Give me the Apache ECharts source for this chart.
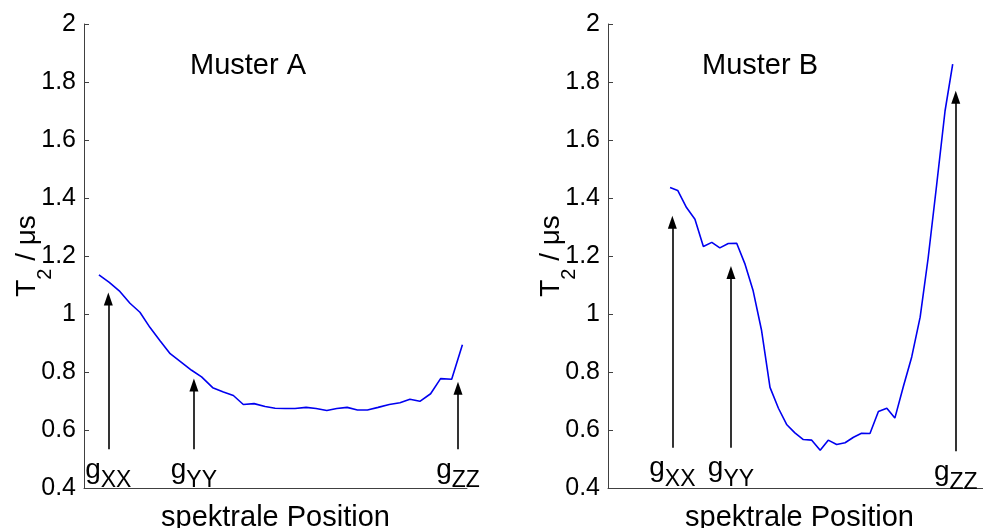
<!DOCTYPE html>
<html>
<head>
<meta charset="utf-8">
<script src="https://cdn.jsdelivr.net/npm/echarts@6/dist/echarts.min.js"></script>
<style>
  html, body { margin: 0; padding: 0; background: #fff; }
  #chart { width: 983px; height: 528px; }
</style>
</head>
<body>
<div id="chart"></div>
<script>
  // spektrale Position (0..100 across the axis) and T2 in µs
  const posA = [3.9, 6.6, 9.2, 12.0, 14.6, 17.2, 19.8, 22.5, 25.1, 28.1, 30.7, 33.6, 36.4, 39.0, 41.6, 44.4, 47.3, 49.9,
    52.5, 55.1, 58.0, 60.6, 63.4, 66.0, 68.7, 71.4, 74.0, 76.8, 79.7, 82.5, 85.1, 87.7, 90.5, 93.1, 96.0, 98.8]
  const t2A = [1.135, 1.109, 1.080, 1.037, 1.006, 0.954, 0.909, 0.863, 0.837, 0.806, 0.783, 0.746, 0.731, 0.719, 0.688, 0.691, 0.681, 0.675,
    0.674, 0.674, 0.678, 0.674, 0.667, 0.674, 0.678, 0.669, 0.669, 0.678, 0.688, 0.694, 0.706, 0.699, 0.725, 0.777, 0.775, 0.894]

  const posB = [16.2, 18.2, 20.5, 22.7, 24.9, 27.1, 29.2, 31.4, 33.6, 35.8, 37.9, 40.1, 42.3, 44.5, 46.7, 48.8, 51.0, 53.2,
    55.4, 57.5, 59.7, 61.9, 64.1, 66.2, 68.4, 70.6, 72.8, 74.9, 77.1, 79.3, 81.5, 83.6, 85.8, 88.0, 90.0]
  const t2B = [1.436, 1.426, 1.367, 1.327, 1.233, 1.247, 1.228, 1.243, 1.244, 1.171, 1.080, 0.943, 0.747, 0.675, 0.618, 0.590, 0.567, 0.565,
    0.530, 0.565, 0.550, 0.556, 0.575, 0.589, 0.588, 0.664, 0.675, 0.641, 0.749, 0.852, 0.989, 1.194, 1.444, 1.700, 1.862]

  // arrows: position, bottom, head centre
  const arrowNames = ['XX', 'YY', 'ZZ']
  const arrowPosA = [6.35, 28.7, 97.65]
  const arrowFromA = [0.534, 0.534, 0.534]
  const arrowToA = [1.052, 0.755, 0.744]
  const arrowPosB = [16.8, 32.1, 90.8]
  const arrowFromB = [0.539, 0.539, 0.527]
  const arrowToB = [1.316, 1.143, 1.747]

  const yTicks = { min: 0.4, max: 2, interval: 0.2 }

  const FONT = 'Liberation Sans, Arial, Helvetica, sans-serif'
  const axisColor = '#404040'

  const myChart = echarts.init(document.getElementById('chart'), null, { renderer: 'canvas' })

  function toPairs(xs, ys) {
    return xs.map((x, i) => [x, ys[i]])
  }

  function arrows(pos, from, to) {
    return pos.map((p, i) => [
      {
        coord: [p, from[i]],
        label: { formatter: '{g|g}{s|' + arrowNames[i] + '}' }
      },
      { coord: [p, to[i]] }
    ])
  }

  function xAxisOpt(idx) {
    return {
      type: 'value',
      gridIndex: idx,
      min: 0,
      max: 100,
      name: 'spektrale Position',
      nameLocation: 'middle',
      nameGap: 15,
      nameTextStyle: { fontFamily: FONT, fontSize: 29, color: '#000' },
      axisLabel: { show: false },
      axisTick: { show: false },
      splitLine: { show: false },
      axisLine: { show: true, onZero: false, lineStyle: { color: axisColor, width: 1 } }
    }
  }

  function yAxisOpt(idx) {
    return {
      type: 'value',
      gridIndex: idx,
      min: yTicks.min,
      max: yTicks.max,
      interval: yTicks.interval,
      name: '{t|T}{s|2}{t| / μs}',
      nameLocation: 'middle',
      nameRotate: 90,
      nameGap: 43,
      nameMoveOverlap: false,
      nameTextStyle: {
        fontFamily: FONT,
        color: '#000',
        rich: {
          t: { fontFamily: FONT, fontSize: 28, lineHeight: 28, verticalAlign: 'top', color: '#000' },
          s: { fontFamily: FONT, fontSize: 20, lineHeight: 20, padding: [22, 0, 0, 0], verticalAlign: 'top', color: '#000' }
        }
      },
      axisLabel: { fontFamily: FONT, fontSize: 25, color: '#000', margin: 8 },
      axisTick: { show: true, inside: true, length: 5, lineStyle: { color: axisColor } },
      splitLine: { show: false },
      axisLine: { show: true, lineStyle: { color: axisColor, width: 1 } }
    }
  }

  function lineSeries(idx, xs, ys, ap, af, at) {
    return {
      type: 'line',
      xAxisIndex: idx,
      yAxisIndex: idx,
      data: toPairs(xs, ys),
      symbol: 'none',
      smooth: false,
      silent: true,
      lineStyle: { color: '#0000f0', width: 1.6 },
      markLine: {
        silent: true,
        symbol: ['none', 'triangle'],
        symbolSize: [9, 13],
        lineStyle: { color: '#000', type: 'solid', width: 1.6 },
        itemStyle: { color: '#000' },
        emphasis: { disabled: true },
        label: {
          show: true,
          position: 'start',
          distance: 7,
          color: '#000',
          rich: {
            g: { fontFamily: FONT, fontSize: 28, lineHeight: 28, verticalAlign: 'top', color: '#000' },
            s: { fontFamily: FONT, fontSize: 23, lineHeight: 23, padding: [13, 0, 0, 0], verticalAlign: 'top', color: '#000' }
          }
        },
        data: arrows(ap, af, at)
      }
    }
  }

  myChart.setOption({
    backgroundColor: '#fff',
    animation: false,
    grid: [
      { left: 84, top: 24, width: 383, height: 464, containLabel: false, outerBoundsMode: 'none' },
      { left: 608, top: 24, width: 383, height: 464, containLabel: false, outerBoundsMode: 'none' }
    ],
    xAxis: [xAxisOpt(0), xAxisOpt(1)],
    yAxis: [yAxisOpt(0), yAxisOpt(1)],
    graphic: [
      { type: 'text', x: 248, y: 66, style: { text: 'Muster A', fontFamily: FONT, fontSize: 29, fill: '#000', textAlign: 'center', textVerticalAlign: 'middle' } },
      { type: 'text', x: 760, y: 66, style: { text: 'Muster B', fontFamily: FONT, fontSize: 29, fill: '#000', textAlign: 'center', textVerticalAlign: 'middle' } }
    ],
    series: [
      lineSeries(0, posA, t2A, arrowPosA, arrowFromA, arrowToA),
      lineSeries(1, posB, t2B, arrowPosB, arrowFromB, arrowToB)
    ]
  })

  window.addEventListener('resize', () => {
    myChart && myChart.resize()
  })
</script>
</body>
</html>
